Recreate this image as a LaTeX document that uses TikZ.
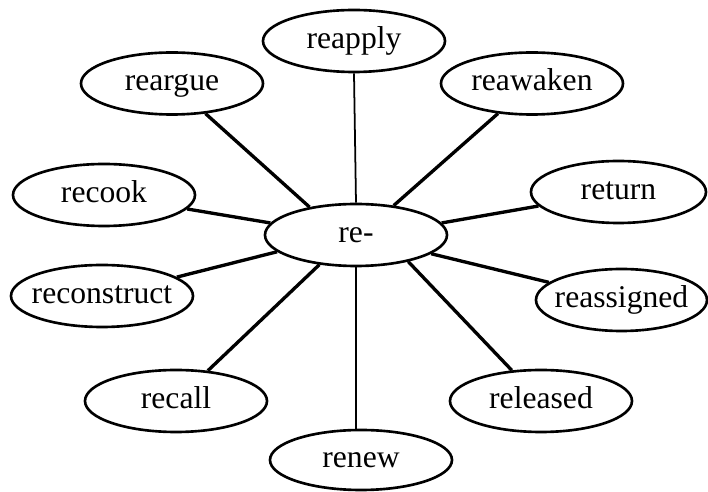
\documentclass[tikz,border=0pt]{standalone}
\usepackage{fontspec}
\setmainfont{Liberation Serif}
\usetikzlibrary{shapes.geometric}

\begin{document}
\begin{tikzpicture}[
  word/.style={ellipse, draw, line width=1.5pt, inner xsep=-6pt, inner ysep=0pt,
    minimum width=3.640cm, minimum height=1.240cm,
    text height=12pt, text depth=3.5pt,
    font=\fontsize{18}{20}\selectfont},
  spoke/.style={line width=1.9pt},
  stem/.style={line width=1pt}]
\useasboundingbox (0,0) rectangle (14.160,9.840);
\node[word] (re) at (7.120,5.140) {re-};
\node[word] (reapply) at (7.080,9.020) {reapply};
\node[word] (reargue) at (3.440,8.170) {reargue};
\node[word] (reawaken) at (10.640,8.170) {reawaken};
\node[word] (recook) at (2.080,5.940) {recook};
\node[word, minimum width=3.500cm] (return) at (12.370,6.000) {return};
\node[word] (reconstruct) at (2.040,3.920) {reconstruct};
\node[word, minimum width=3.420cm] (reassigned) at (12.430,3.840) {reassigned};
\node[word] (recall) at (3.520,1.820) {recall};
\node[word] (released) at (10.820,1.820) {released};
\node[word, minimum height=1.200cm] (renew) at (7.220,0.640) {renew};
\draw[stem] (reapply.south) -- (re.north);
\draw[stem] (re.south) -- (re.south |- renew.north);
\draw[spoke] (reargue) -- (re.149);
\draw[spoke] (reawaken) -- (re.38);
\draw[spoke] (recook) -- (re.172);
\draw[spoke] (return) -- (re.8);
\draw[spoke] (reconstruct) -- (re.192);
\draw[spoke] (recall) -- (re.219);
\draw[spoke] (released) -- (re.333);
\draw[spoke] (reassigned) -- (re.346);
\end{tikzpicture}
\end{document}
